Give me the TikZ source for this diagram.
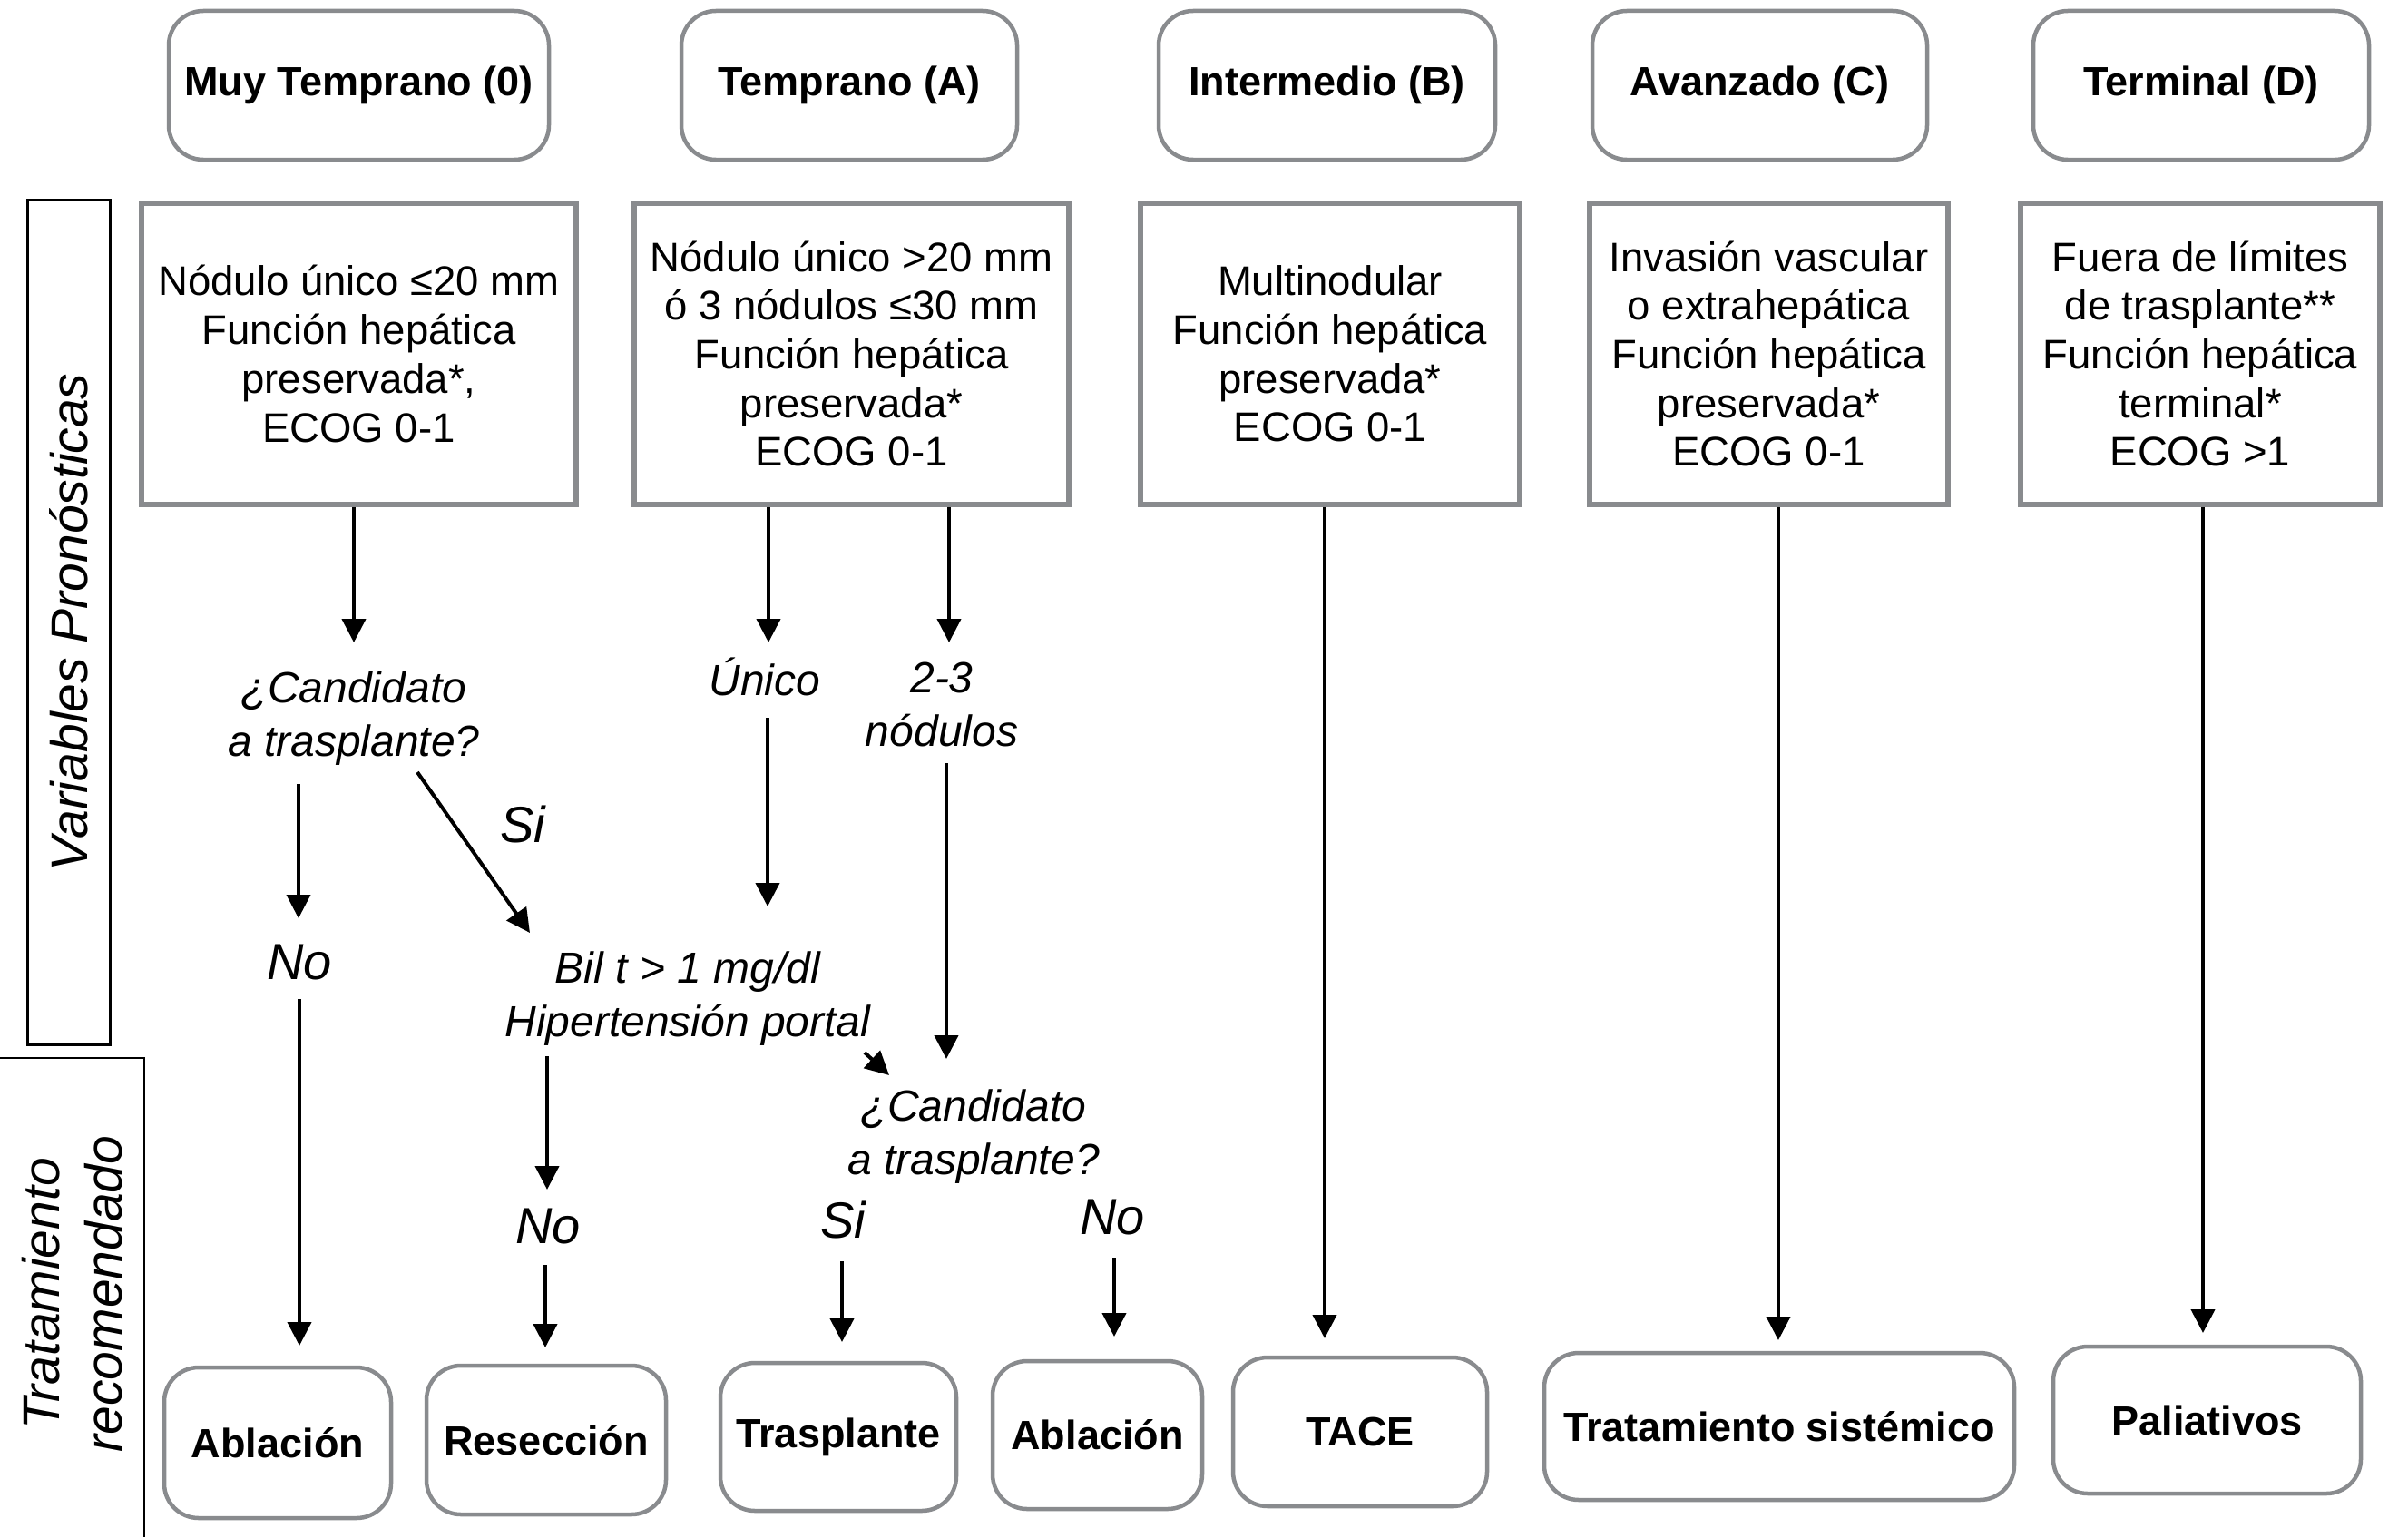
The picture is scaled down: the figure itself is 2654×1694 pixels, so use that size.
\documentclass[tikz,border=0pt]{standalone}
\usepackage{fontspec}
\setmainfont{Liberation Sans}
\usetikzlibrary{arrows.meta}
\definecolor{boxgray}{RGB}{137,139,142}
\begin{document}
\begin{tikzpicture}[x=1pt,y=-1pt,
  stage/.style={draw=boxgray, line width=4.5pt, rounded corners=38pt, inner sep=0pt,
    font=\fontsize{45}{52}\selectfont\bfseries},
  crit/.style={draw=boxgray, line width=6pt, inner sep=0pt, align=center,
    font=\fontsize{45.5}{53.7}\selectfont},
  lab/.style={inner sep=0pt, align=center, font=\fontsize{48}{59}\selectfont\itshape},
  yn/.style={inner sep=0pt, anchor=base, font=\fontsize{56}{60}\selectfont\itshape},
  sideline/.style={draw=black, line width=2.5pt},
  sidetext/.style={inner sep=0pt, align=center, rotate=90, font=\fontsize{57}{69}\selectfont\itshape},
  arr/.style={line width=4pt, -{Triangle[length=26pt,width=26pt]}}
]
\useasboundingbox (0,0) rectangle (2654,1694);
\fill[white] (0,0) rectangle (2654,1694);

% stage headers
\node[stage, minimum width=419, minimum height=164] (h0) at (395.5,94) {Muy Temprano (0)};
\node[stage, minimum width=370, minimum height=164] (hA) at (936,94) {Temprano (A)};
\node[stage, minimum width=371, minimum height=164] (hB) at (1462.5,94) {Intermedio (B)};
\node[stage, minimum width=369, minimum height=164] (hC) at (1939.5,94) {Avanzado (C)};
\node[stage, minimum width=370, minimum height=164] (hD) at (2426,94) {Terminal (D)};

% criteria boxes
\node[crit, minimum width=479, minimum height=332] (c0) at (395.5,390)
  {Nódulo único ≤20 mm\\Función hepática\\preservada*,\\ECOG 0-1};
\node[crit, minimum width=479, minimum height=332] (cA) at (938.5,390)
  {Nódulo único >20 mm\\ó 3 nódulos ≤30 mm\\Función hepática\\preservada*\\ECOG 0-1};
\node[crit, minimum width=418, minimum height=332] (cB) at (1466,390)
  {Multinodular\\Función hepática\\preservada*\\ECOG 0-1};
\node[crit, minimum width=395, minimum height=332] (cC) at (1949.5,390)
  {Invasión vascular\\o extrahepática\\Función hepática\\preservada*\\ECOG 0-1};
\node[crit, minimum width=396, minimum height=332] (cD) at (2425,390)
  {Fuera de límites\\de trasplante**\\Función hepática\\terminal*\\ECOG >1};

% side labels
\node[sideline, sidetext, minimum width=931, minimum height=91] (vp) at (76,686) {Variables Pronósticas};
\draw[sideline] (0,1166) -- (159,1166) -- (159,1694);
\node[sidetext] (tr) at (79.5,1426) {Tratamiento\\recomendado};

% decision labels
\node[lab] (q1) at (390,791.5) {¿Candidato\\a trasplante?};
\node[lab, anchor=base] (unico) at (843,766) {Único};
\node[lab] (n23) at (1038,776) {2-3\\nódulos};
\node[yn] (si1) at (576,928) {Si};
\node[yn] (no1) at (330,1079) {No};
\node[lab] (bil) at (758,1100.5) {Bil t > 1 mg/dl\\Hipertensión portal};
\node[lab] (q2) at (1073,1252.5) {¿Candidato\\a trasplante?};
\node[yn] (no2) at (604,1370) {No};
\node[yn] (si2) at (929,1364) {Si};
\node[yn] (no3) at (1226,1360) {No};

% treatment boxes
\node[stage, minimum width=250, minimum height=166] (abl1) at (306,1590) {Ablación};
\node[stage, minimum width=264, minimum height=164] (res) at (602,1587) {Resección};
\node[stage, minimum width=260, minimum height=163] (tras) at (924,1583.5) {Trasplante};
\node[stage, minimum width=231, minimum height=163] (abl2) at (1209.5,1581.5) {Ablación};
\node[stage, minimum width=280, minimum height=164] (tace) at (1499,1578) {TACE};
\node[stage, minimum width=518, minimum height=162] (sist) at (1961,1572) {Tratamiento sistémico};
\node[stage, minimum width=339, minimum height=162] (pal) at (2432.5,1565) {Paliativos};

% connector end points
\coordinate (t1) at (390,708);
\coordinate (t2) at (847,708);
\coordinate (t3) at (1046,708);
\coordinate (t4) at (1460,1475);
\coordinate (t5) at (1960,1477);
\coordinate (t6) at (2428,1469);
\coordinate (s7) at (329,864);   \coordinate (t7) at (329,1012);
\coordinate (s8) at (460,851);   \coordinate (t8) at (584,1028);
\coordinate (s9) at (846,791);   \coordinate (t9) at (846,999);
\coordinate (s10) at (1043,841); \coordinate (t10) at (1043,1167);
\coordinate (s11) at (953,1160); \coordinate (t11) at (980,1185);
\coordinate (s12) at (603,1164); \coordinate (t12) at (603,1311);
\coordinate (s13) at (330,1101); \coordinate (t13) at (330,1483);
\coordinate (s14) at (601,1394); \coordinate (t14) at (601,1485);
\coordinate (s15) at (928,1390); \coordinate (t15) at (928,1479);
\coordinate (s16) at (1228,1386); \coordinate (t16) at (1228,1473);

% connectors
\draw[arr] (c0.south -| t1) -- (t1);
\draw[arr] (cA.south -| t2) -- (t2);
\draw[arr] (cA.south -| t3) -- (t3);
\draw[arr] (cB.south -| t4) -- (t4);
\draw[arr] (cC.south -| t5) -- (t5);
\draw[arr] (cD.south -| t6) -- (t6);
\draw[arr] (s7) -- (t7);
\draw[arr] (s8) -- (t8);
\draw[arr] (s9) -- (t9);
\draw[arr] (s10) -- (t10);
\draw[arr] (s11) -- (t11);
\draw[arr] (s12) -- (t12);
\draw[arr] (s13) -- (t13);
\draw[arr] (s14) -- (t14);
\draw[arr] (s15) -- (t15);
\draw[arr] (s16) -- (t16);
\end{tikzpicture}
\end{document}
